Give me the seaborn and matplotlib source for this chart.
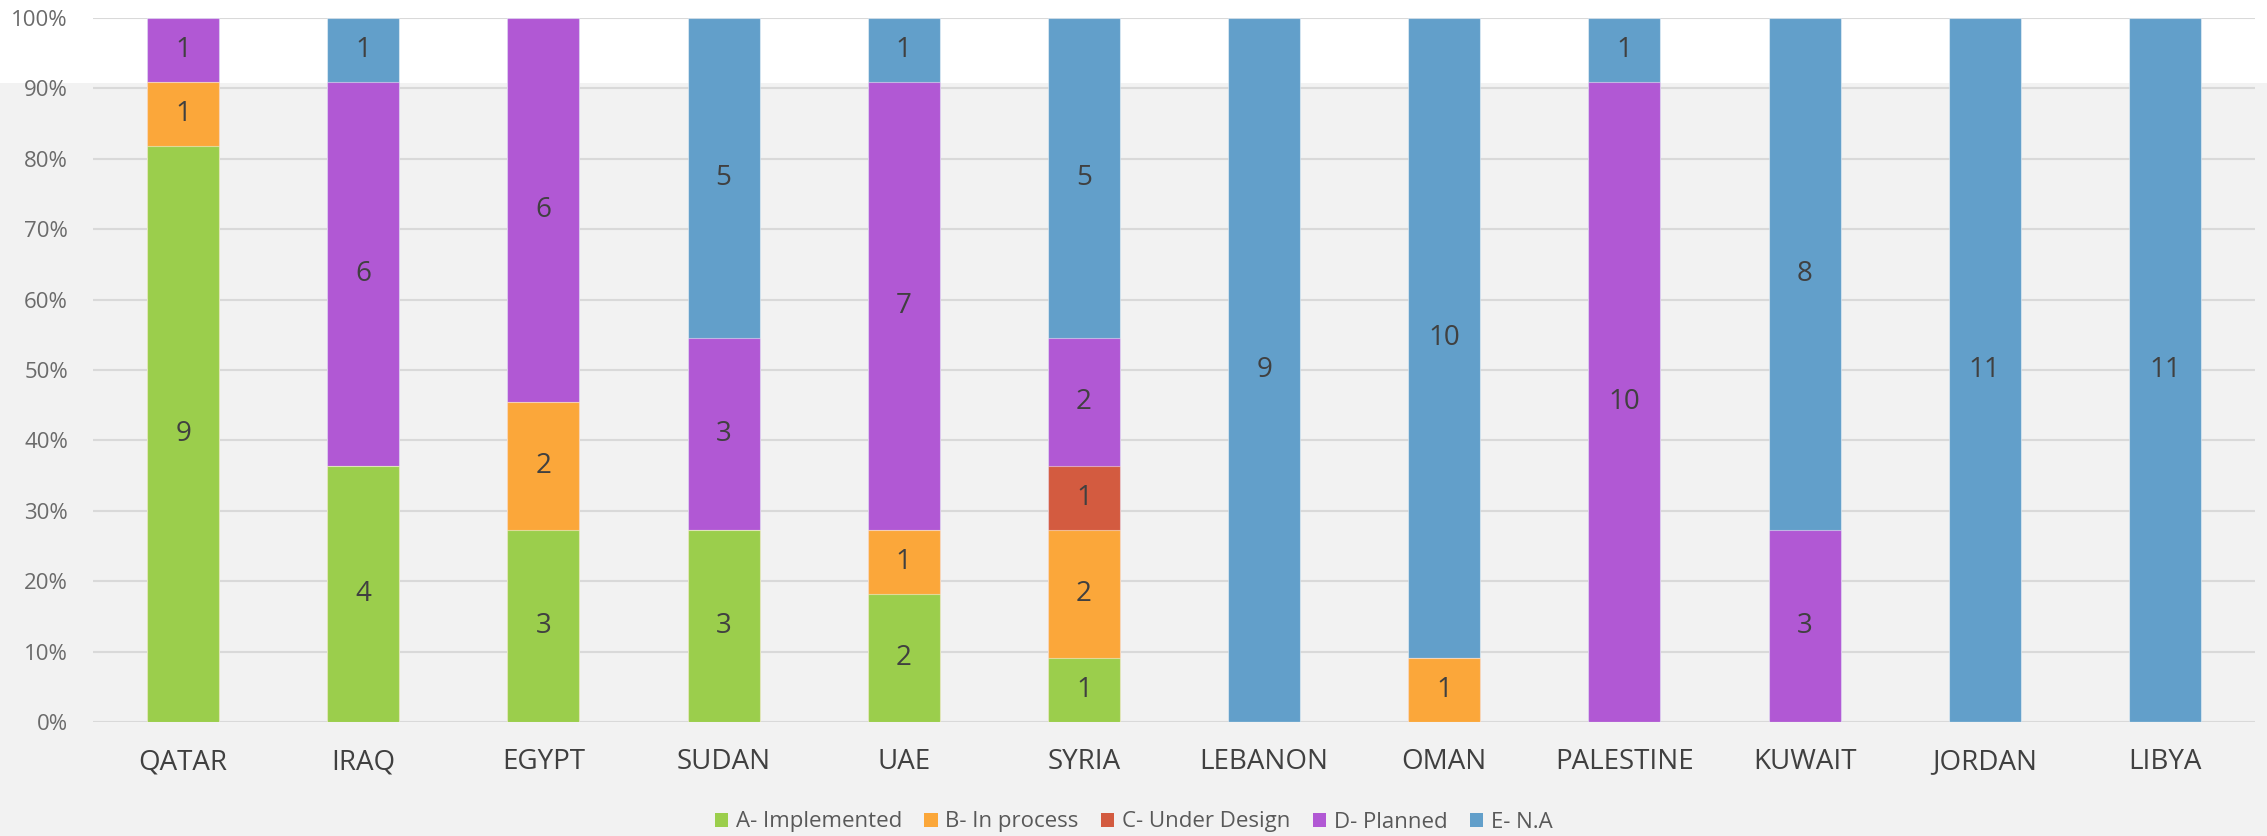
import pandas as pd
import numpy as np
import matplotlib
matplotlib.use('Agg')
import matplotlib.pyplot as plt
from matplotlib.patches import Patch, Rectangle
import seaborn as sns

countries = ['QATAR', 'IRAQ', 'EGYPT', 'SUDAN', 'UAE', 'SYRIA', 'LEBANON',
             'OMAN', 'PALESTINE', 'KUWAIT', 'JORDAN', 'LIBYA']
implemented = [9, 4, 3, 3, 2, 1, 0, 0, 0, 0, 0, 0]
in_process = [1, 0, 2, 0, 1, 2, 0, 1, 0, 0, 0, 0]
under_design = [0, 0, 0, 0, 0, 1, 0, 0, 0, 0, 0, 0]
planned = [1, 6, 6, 3, 7, 2, 0, 0, 10, 3, 0, 0]
not_available = [0, 1, 0, 5, 1, 5, 9, 10, 1, 8, 11, 11]

series_names = ['A- Implemented', 'B- In process', 'C- Under Design', 'D- Planned', 'E- N.A']
colors = ['#9bce4c', '#fba73a', '#d35b40', '#b158d4', '#629fca']

df = pd.DataFrame({'A- Implemented': implemented, 'B- In process': in_process,
                   'C- Under Design': under_design, 'D- Planned': planned,
                   'E- N.A': not_available}, index=countries)
share = df.div(df.sum(axis=1), axis=0)
cum = share.cumsum(axis=1)

sns.set_style('white')
plt.rcParams['font.family'] = ['Open Sans', 'DejaVu Sans']

fig = plt.figure(figsize=(22.67, 8.36), dpi=100, facecolor='#f2f2f2')
fig.patches.append(Rectangle((0, 1 - 83 / 836), 1, 83 / 836, transform=fig.transFigure,
                             facecolor='white', edgecolor='none', zorder=-10))
ax = fig.add_axes([93 / 2267, 1 - 722 / 836, (2255 - 93) / 2267, (722 - 18) / 836])
ax.set_facecolor('none')

# draw cumulative bars from the top series down so each one covers the next
for name, c in reversed(list(zip(series_names, colors))):
    sns.barplot(x=countries, y=cum[name].values, color=c, width=0.4, saturation=1,
                edgecolor=(1, 1, 1, 0.45), linewidth=0.8, ax=ax, zorder=3)

for name in series_names:
    for i, country in enumerate(countries):
        n = df.loc[country, name]
        if n > 0:
            mid = cum.loc[country, name] - share.loc[country, name] / 2
            ax.text(i, mid, str(n), ha='center', va='center', fontsize=20,
                    color='#404040', zorder=5)

ax.set_ylim(0, 1)
ax.set_xlim(-0.5, len(countries) - 0.5)
ax.set_yticks(np.arange(0, 1.01, 0.1))
ax.set_yticklabels([f'{int(round(v * 100))}%' for v in np.arange(0, 1.01, 0.1)])
ax.yaxis.grid(True, color='#d9d9d9', linewidth=1.5, zorder=0)
ax.set_axisbelow(True)
for s in ax.spines.values():
    s.set_visible(False)
ax.tick_params(axis='y', length=0, pad=18, labelsize=16, labelcolor='#6b6b6b')
ax.tick_params(axis='x', length=0, pad=19, labelsize=20, labelcolor='#404040')
ax.set_xlabel('')
ax.set_ylabel('')

handles = [Patch(facecolor=c, edgecolor='none') for c in colors]
fig.legend(handles, series_names, loc='center', bbox_to_anchor=(0.5, 1 - 822 / 836),
           ncol=5, frameon=False, fontsize=16, handlelength=0.6, handleheight=0.6,
           handletextpad=0.35, columnspacing=1.0, labelcolor='#595959')

fig.savefig('out.png', dpi=100, facecolor=fig.get_facecolor())
